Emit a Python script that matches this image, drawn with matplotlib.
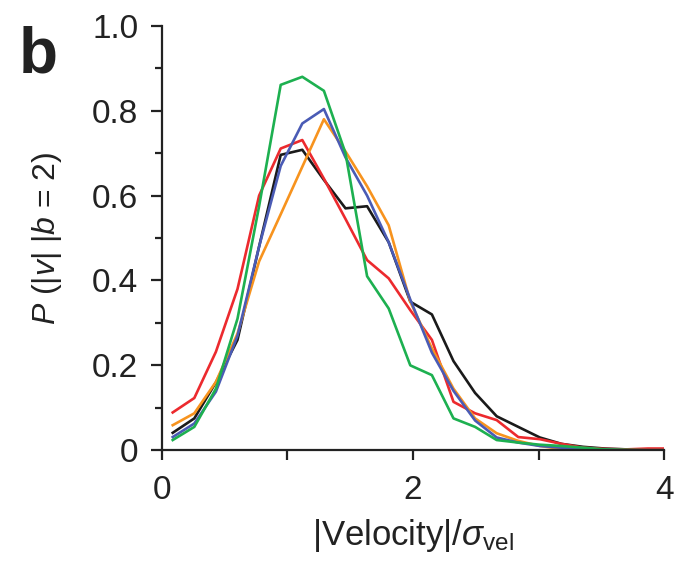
import matplotlib.pyplot as plt
from matplotlib.ticker import MultipleLocator

plt.rcParams['font.family'] = ['Liberation Sans', 'DejaVu Sans']
plt.rcParams['mathtext.fontset'] = 'custom'
plt.rcParams['mathtext.rm'] = 'Liberation Sans'
plt.rcParams['mathtext.it'] = 'Liberation Sans:italic'

# bin centres of |velocity|/sigma
speed = [0.086, 0.258, 0.430, 0.602, 0.774, 0.946, 1.118, 1.290, 1.462, 1.634,
         1.806, 1.978, 2.150, 2.322, 2.494, 2.666, 2.838, 3.010, 3.182, 3.354,
         3.526, 3.698, 3.870, 4.042]

black = [0.041, 0.075, 0.160, 0.260, 0.480, 0.696, 0.708, 0.637, 0.570, 0.575,
         0.490, 0.350, 0.320, 0.210, 0.135, 0.080, 0.055, 0.030, 0.015, 0.008,
         0.004, 0.002, 0.001, 0.0]
red = [0.089, 0.123, 0.232, 0.380, 0.600, 0.711, 0.731, 0.640, 0.545, 0.448,
       0.405, 0.330, 0.260, 0.114, 0.087, 0.071, 0.031, 0.026, 0.015, 0.006,
       0.003, 0.002, 0.004, 0.004]
green = [0.024, 0.055, 0.145, 0.310, 0.575, 0.861, 0.880, 0.847, 0.700, 0.410,
         0.334, 0.200, 0.177, 0.075, 0.055, 0.024, 0.018, 0.013, 0.010, 0.006,
         0.002, 0.001, 0.0, 0.0]
blue = [0.031, 0.063, 0.138, 0.270, 0.480, 0.670, 0.770, 0.804, 0.690, 0.600,
        0.490, 0.355, 0.230, 0.140, 0.070, 0.030, 0.018, 0.010, 0.006, 0.003,
        0.001, 0.0, 0.0, 0.0]
orange = [0.059, 0.087, 0.161, 0.275, 0.445, 0.556, 0.668, 0.780, 0.704, 0.622,
          0.530, 0.350, 0.240, 0.145, 0.075, 0.040, 0.022, 0.010, 0.003, 0.001,
          0.0, 0.0, 0.0, 0.0]

fig = plt.figure(figsize=(6.89, 5.75), dpi=100)
ax = fig.add_axes([0.235, 0.217, 0.729, 0.738])

ax.plot(speed, black, color='#1a1a1a', lw=1.9)
ax.plot(speed, red, color='#ec2a2e', lw=1.9)
ax.plot(speed, orange, color='#f7931e', lw=1.9)
ax.plot(speed, blue, color='#4a5bb5', lw=1.9)
ax.plot(speed, green, color='#1db050', lw=1.9)

ax.set_xlim(0, 4)
ax.set_ylim(0, 1.0)
ax.spines['top'].set_visible(False)
ax.spines['right'].set_visible(False)
for s in ['left', 'bottom']:
    ax.spines[s].set_linewidth(1.6)
    ax.spines[s].set_color('#222222')

ax.set_xticks([0, 1, 2, 3, 4])
ax.set_xticklabels(['0', '', '2', '', '4'])
ax.set_yticks([0, 0.2, 0.4, 0.6, 0.8, 1.0])
ax.set_yticklabels(['0', '0.2', '0.4', '0.6', '0.8', '1.0'])
ax.yaxis.set_minor_locator(MultipleLocator(0.1))
ax.tick_params(axis='y', which='major', length=8, width=1.6, pad=9,
               labelsize=24, color='#222222', labelcolor='#222222')
ax.tick_params(axis='y', which='minor', length=5, width=1.6, color='#222222')
ax.tick_params(axis='x', which='major', length=7, width=1.6, pad=11,
               labelsize=24, color='#222222', labelcolor='#222222')

ax.set_xlabel(r'|Velocity|/$\sigma_{\mathrm{vel}}$', fontsize=25, color='#222222',
              labelpad=8)
ax.set_ylabel(r'$P$ (|$v$| |$b$ = 2)', fontsize=23, color='#222222', labelpad=20)

fig.text(0.027, 0.955, 'b', fontsize=46, fontweight='bold', color='#222222',
         va='top', ha='left')

fig.savefig('out.png', dpi=100)
